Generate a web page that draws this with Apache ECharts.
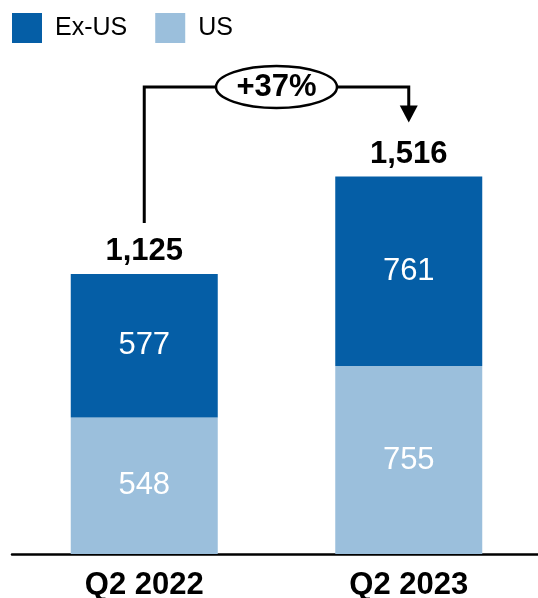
<!DOCTYPE html>
<html>
<head>
<meta charset="utf-8">
<style>
  html, body { margin: 0; padding: 0; background: #ffffff; }
  #chart { width: 538px; height: 598px; }
</style>
<script src="https://cdn.jsdelivr.net/npm/echarts@6/dist/echarts.min.js"></script>
</head>
<body>
<div id="chart"></div>
<script>
// Quarterly revenue split into US and Ex-US
const quarters = ['Q2 2022', 'Q2 2023'];
const usValues = [548, 755];
const exUsValues = [577, 761];
const totals = [1125, 1516];
const growthLabel = '+37%';

const FONT = '"Liberation Sans", Arial, Helvetica, sans-serif';
const DARK_BLUE = '#055EA6';
const LIGHT_BLUE = '#9BBFDC';

const chart = echarts.init(document.getElementById('chart'), null, { renderer: 'canvas' });

const insideLabel = {
  show: true,
  position: 'inside',
  color: '#ffffff',
  fontFamily: FONT,
  fontSize: 31
};

chart.setOption({
  animation: false,
  backgroundColor: '#ffffff',
  legend: {
    data: ['Ex-US', 'US'],
    left: 7,
    top: 8,
    itemWidth: 30,
    itemHeight: 30,
    itemGap: 28,
    icon: 'rect',
    selectedMode: false,
    textStyle: {
      fontFamily: FONT,
      fontSize: 25,
      color: '#000000',
      padding: [0, 0, 0, 8]
    }
  },
  grid: {
    left: 12,
    right: -3,
    top: 56,
    bottom: 44,
    containLabel: false,
    outerBoundsMode: 'none'
  },
  xAxis: {
    type: 'category',
    data: quarters,
    axisTick: { show: false },
    axisLine: { lineStyle: { color: '#000000', width: 2.5 } },
    axisLabel: {
      margin: 16,
      color: '#000000',
      fontFamily: FONT,
      fontWeight: 'bold',
      fontSize: 31
    }
  },
  yAxis: {
    type: 'value',
    min: 0,
    max: 2000,
    show: false,
    splitLine: { show: false }
  },
  series: [
    {
      name: 'US',
      type: 'bar',
      stack: 'total',
      barWidth: 147,
      data: usValues,
      itemStyle: { color: LIGHT_BLUE },
      label: insideLabel
    },
    {
      name: 'Ex-US',
      type: 'bar',
      stack: 'total',
      barWidth: 147,
      data: exUsValues,
      itemStyle: { color: DARK_BLUE },
      label: insideLabel
    },
    {
      // invisible points at each total, carrying the total label
      name: 'Total',
      type: 'scatter',
      data: totals,
      symbolSize: 1,
      silent: true,
      itemStyle: { color: 'transparent', opacity: 1 },
      label: {
        show: true,
        position: 'top',
        distance: 6,
        color: '#000000',
        fontFamily: FONT,
        fontWeight: 'bold',
        fontSize: 31,
        formatter: (p) => p.value.toLocaleString('en-US')
      }
    }
  ]
});

// Growth bracket: rises from the first total, runs over to the second and
// points down at it, with the growth figure in an ellipse at the middle.
const [x1, yTop1] = chart.convertToPixel({ xAxisIndex: 0, yAxisIndex: 0 }, [quarters[0], totals[0]]);
const [x2, yTop2] = chart.convertToPixel({ xAxisIndex: 0, yAxisIndex: 0 }, [quarters[1], totals[1]]);
const bracketY = 87;
const lineStart = yTop1 - 51;
const arrowTip = yTop2 - 54;
const headH = 17;
const headW = 18;
const cx = (x1 + x2) / 2;
const rx = 60.5;
const ry = 21;
const stroke = { stroke: '#000000', lineWidth: 3, fill: null };

chart.setOption({
  graphic: [
    {
      type: 'polyline',
      shape: { points: [[x1, lineStart], [x1, bracketY], [cx - rx, bracketY]] },
      style: stroke,
      silent: true
    },
    {
      type: 'polyline',
      shape: { points: [[cx + rx, bracketY], [x2, bracketY], [x2, arrowTip - headH + 1]] },
      style: stroke,
      silent: true
    },
    {
      type: 'polygon',
      shape: { points: [[x2 - headW / 2, arrowTip - headH], [x2 + headW / 2, arrowTip - headH], [x2, arrowTip]] },
      style: { fill: '#000000' },
      silent: true
    },
    {
      type: 'ellipse',
      shape: { cx: cx, cy: bracketY, rx: rx, ry: ry },
      style: { fill: '#ffffff', stroke: '#000000', lineWidth: 2.5 },
      silent: true
    },
    {
      type: 'text',
      x: cx,
      y: bracketY,
      style: {
        text: growthLabel,
        fill: '#000000',
        font: 'bold 31px ' + FONT,
        align: 'center',
        verticalAlign: 'middle'
      },
      silent: true
    }
  ]
});
</script>
</body>
</html>
